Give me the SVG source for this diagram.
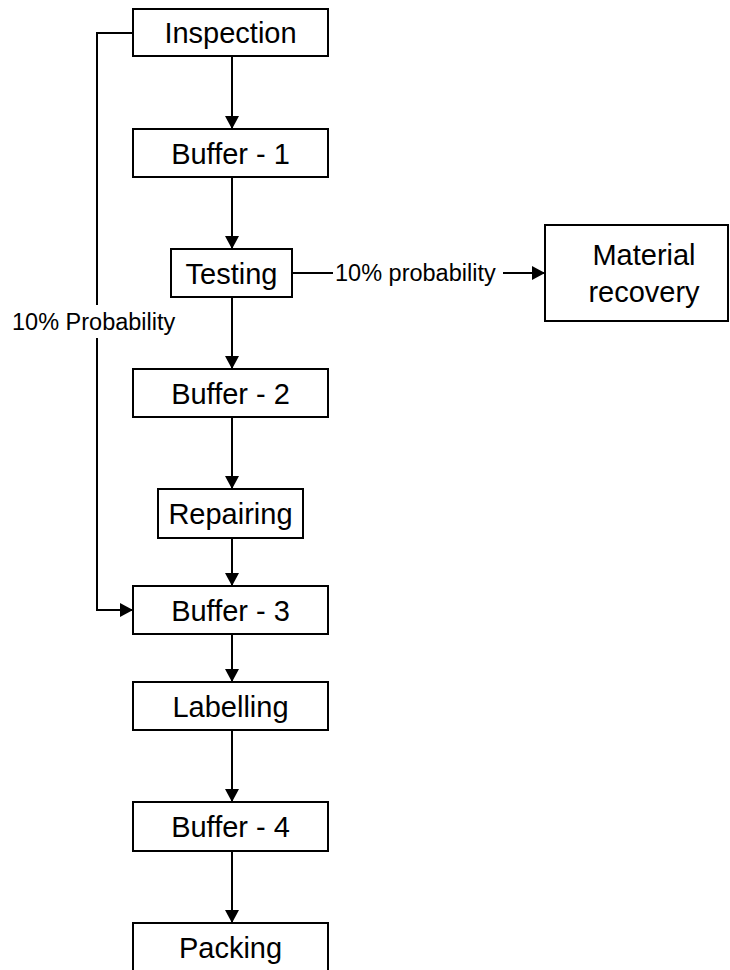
<svg xmlns="http://www.w3.org/2000/svg" width="730" height="970" viewBox="0 0 730 970">
  <style>
    .box { fill: #ffffff; stroke: #000000; stroke-width: 2; }
    .label { font-family: "Liberation Sans", Arial, sans-serif; font-size: 29px; fill: #000000; text-anchor: middle; }
    .note { font-family: "Liberation Sans", Arial, sans-serif; font-size: 23.5px; fill: #000000; }
    .wire { fill: none; stroke: #000000; stroke-width: 2; }
  </style>
  <defs>
    <marker id="arrow" markerWidth="14" markerHeight="14" refX="13" refY="7" orient="auto" markerUnits="userSpaceOnUse">
      <path d="M0,0 L13,7 L0,14 Z" fill="#000000"/>
    </marker>
  </defs>
  <rect width="730" height="970" fill="#ffffff"/>

  <g id="connectors">
    <line class="wire" x1="232" y1="56" x2="232" y2="129" marker-end="url(#arrow)"/>
    <line class="wire" x1="232" y1="177" x2="232" y2="249" marker-end="url(#arrow)"/>
    <line class="wire" x1="232" y1="297" x2="232" y2="369" marker-end="url(#arrow)"/>
    <line class="wire" x1="232" y1="417" x2="232" y2="489" marker-end="url(#arrow)"/>
    <line class="wire" x1="232" y1="538" x2="232" y2="586" marker-end="url(#arrow)"/>
    <line class="wire" x1="232" y1="634" x2="232" y2="682" marker-end="url(#arrow)"/>
    <line class="wire" x1="232" y1="730" x2="232" y2="802" marker-end="url(#arrow)"/>
    <line class="wire" x1="232" y1="851" x2="232" y2="923" marker-end="url(#arrow)"/>
    <!-- Testing to Material recovery -->
    <line class="wire" x1="292" y1="273" x2="333" y2="273"/>
    <line class="wire" x1="503" y1="273" x2="545" y2="273" marker-end="url(#arrow)"/>
    <text class="note" x="335" y="281">10% probability</text>
    <!-- Inspection bypass to Buffer - 3 -->
    <polyline class="wire" points="133,33 97,33 97,305"/>
    <polyline class="wire" points="97,338 97,610 133,610" marker-end="url(#arrow)"/>
    <text class="note" x="12" y="330">10% Probability</text>
  </g>

  <g id="inspection">
    <rect class="box" x="133" y="9" width="195" height="47"/>
    <text class="label" x="230.5" y="43">Inspection</text>
  </g>
  <g id="buffer-1">
    <rect class="box" x="133" y="129" width="195" height="48"/>
    <text class="label" x="230.5" y="164">Buffer - 1</text>
  </g>
  <g id="testing">
    <rect class="box" x="171" y="249" width="121" height="48"/>
    <text class="label" x="231.5" y="284">Testing</text>
  </g>
  <g id="material-recovery">
    <rect class="box" x="545" y="225" width="183" height="96"/>
    <text class="label" x="644" y="265">Material</text>
    <text class="label" x="644" y="302">recovery</text>
  </g>
  <g id="buffer-2">
    <rect class="box" x="133" y="369" width="195" height="48"/>
    <text class="label" x="230.5" y="404">Buffer - 2</text>
  </g>
  <g id="repairing">
    <rect class="box" x="158" y="489" width="145" height="49"/>
    <text class="label" x="230.5" y="524">Repairing</text>
  </g>
  <g id="buffer-3">
    <rect class="box" x="133" y="586" width="195" height="48"/>
    <text class="label" x="230.5" y="621">Buffer - 3</text>
  </g>
  <g id="labelling">
    <rect class="box" x="133" y="682" width="195" height="48"/>
    <text class="label" x="230.5" y="717">Labelling</text>
  </g>
  <g id="buffer-4">
    <rect class="box" x="133" y="802" width="195" height="49"/>
    <text class="label" x="230.5" y="837">Buffer - 4</text>
  </g>
  <g id="packing">
    <rect class="box" x="133" y="923" width="195" height="60"/>
    <text class="label" x="230.5" y="958">Packing</text>
  </g>
</svg>
